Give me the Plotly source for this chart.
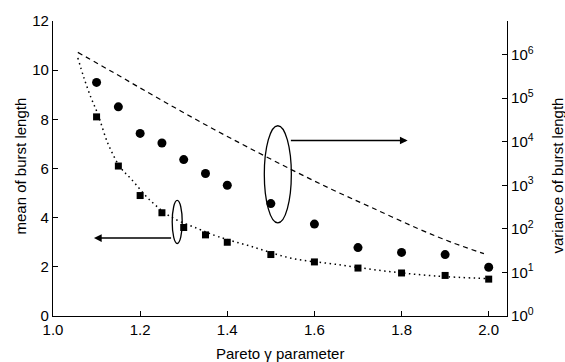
import plotly.graph_objects as go

# Pareto shape parameter values where bursts were measured
gamma_pts = [1.1, 1.15, 1.2, 1.25, 1.3, 1.35, 1.4, 1.5, 1.6, 1.7, 1.8, 1.9, 2.0]

# Measured mean burst length (left axis)
mean_meas = [8.1, 6.1, 4.9, 4.2, 3.6, 3.3, 3.0, 2.5, 2.2, 1.95, 1.75, 1.65, 1.5]

# Measured variance of burst length, log10 (right axis)
var_meas_log = [5.36, 4.80, 4.19, 3.97, 3.59, 3.27, 3.00, 2.58, 2.11, 1.57, 1.46, 1.41, 1.12]

# Analytical mean curve
gamma_mean_curve = [1.057, 1.071, 1.087, 1.103, 1.126, 1.154, 1.179, 1.225, 1.271,
                    1.333, 1.379, 1.455, 1.547, 1.646, 1.761, 1.876, 2.0]
mean_curve = [10.5, 9.69, 8.89, 8.21, 7.02, 6.06, 5.58, 4.67, 4.03,
              3.55, 3.23, 2.83, 2.35, 2.11, 1.83, 1.63, 1.52]

# Analytical variance curve, log10
gamma_var_curve = [1.057, 1.140, 1.218, 1.294, 1.370, 1.448, 1.547, 1.639,
                   1.731, 1.839, 1.915, 1.989]
var_curve_log = [6.05, 5.58, 5.13, 4.70, 4.28, 3.87, 3.36, 2.91,
                 2.49, 2.00, 1.69, 1.43]

x_ticks = [1.0, 1.2, 1.4, 1.6, 1.8, 2.0]
y_ticks = [0, 2, 4, 6, 8, 10, 12]
var_exponents = [0, 1, 2, 3, 4, 5, 6]

x_title = "Pareto γ parameter"
y_title = "mean of burst length"
y2_title = "variance of burst length"

FONT = "Liberation Sans, Arial, sans-serif"
FS = 15

fig = go.Figure()

fig.add_trace(go.Scatter(
    x=gamma_mean_curve, y=mean_curve, mode="lines",
    line=dict(color="black", width=1.5, dash="1.5px,3.5px", shape="spline"),
    yaxis="y", showlegend=False, hoverinfo="skip"))

fig.add_trace(go.Scatter(
    x=gamma_var_curve, y=[10 ** v for v in var_curve_log], mode="lines",
    line=dict(color="black", width=1.2, dash="5px,4px", shape="spline"),
    yaxis="y2", showlegend=False, hoverinfo="skip"))

fig.add_trace(go.Scatter(
    x=gamma_pts, y=mean_meas, mode="markers",
    marker=dict(symbol="square", size=7, color="black"),
    yaxis="y", showlegend=False))

fig.add_trace(go.Scatter(
    x=gamma_pts, y=[10 ** v for v in var_meas_log], mode="markers",
    marker=dict(symbol="circle", size=9, color="black"),
    yaxis="y2", showlegend=False))

# Ellipses grouping each dataset with its axis
fig.add_shape(type="circle", xref="x", yref="y",
              x0=1.2736, x1=1.2966, y0=2.95, y1=4.70,
              line=dict(color="black", width=1.3))
fig.add_shape(type="circle", xref="x", yref="y",
              x0=1.485, x1=1.547, y0=3.79, y1=7.74,
              line=dict(color="black", width=1.3))

# Arrows pointing to the corresponding axis
fig.add_annotation(x=1.094, y=3.17, ax=1.2745, ay=3.17,
                   xref="x", yref="y", axref="x", ayref="y",
                   showarrow=True, arrowhead=2, arrowsize=1.1, arrowwidth=1.4,
                   arrowcolor="black", text="")
fig.add_annotation(x=1.814, y=7.14, ax=1.5425, ay=7.14,
                   xref="x", yref="y", axref="x", ayref="y",
                   showarrow=True, arrowhead=2, arrowsize=1.1, arrowwidth=1.4,
                   arrowcolor="black", text="")

# Axis titles placed as annotations relative to the plot area
title_font = dict(family=FONT, size=FS, color="black")
fig.add_annotation(text=x_title, xref="paper", yref="paper", x=0.5, y=0,
                   xanchor="center", yanchor="middle", yshift=-37,
                   showarrow=False, font=title_font)
fig.add_annotation(text=y_title, xref="paper", yref="paper", x=0, y=0.5,
                   xanchor="center", yanchor="middle", xshift=-33, yshift=2,
                   textangle=-90, showarrow=False, font=title_font)
fig.add_annotation(text=y2_title, xref="paper", yref="paper", x=1, y=0.5,
                   xanchor="center", yanchor="middle", xshift=50, yshift=-7,
                   textangle=-90, showarrow=False, font=title_font)

axis_common = dict(showgrid=False, zeroline=False, showline=True, linecolor="black",
                   linewidth=1.2, ticks="inside", ticklen=5, tickcolor="black",
                   tickfont=dict(family=FONT, size=FS, color="black"))

fig.update_layout(
    width=565, height=362,
    margin=dict(l=53, r=58, t=15, b=46),
    paper_bgcolor="white", plot_bgcolor="white",
    font=dict(family=FONT, size=FS, color="black"),
    xaxis=dict(range=[1.0, 2.042], tickvals=x_ticks,
               ticktext=[f"{v:.1f}" for v in x_ticks], **axis_common),
    yaxis=dict(range=[0, 12], tickvals=y_ticks, **axis_common),
    yaxis2=dict(type="log", range=[0, 6.77],
                tickvals=[10 ** k for k in var_exponents],
                ticktext=[f"10<sup>{k}</sup>" for k in var_exponents],
                overlaying="y", side="right", **axis_common),
)

fig.write_html("out.html")
